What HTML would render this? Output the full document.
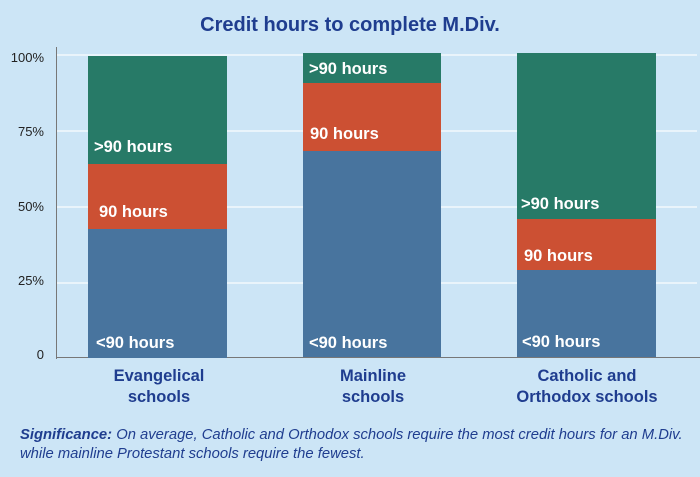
<!DOCTYPE html>
<html><head><meta charset="utf-8"><style>
body{margin:0;width:700px;height:477px;background:#cce5f6;font-family:"Liberation Sans",sans-serif;position:relative;overflow:hidden}
.a{position:absolute}
.t{left:0;width:700px;top:14px;text-align:center;color:#1f3d8f;font-weight:bold;font-size:20px}
.g{left:57px;width:640px;height:2px;background:#e9f4fb}
.yl{left:0;width:44px;text-align:right;font-size:13px;color:#222}
.bar{position:absolute}
.lb{position:absolute;color:#fff;font-weight:bold;font-size:16.5px;white-space:nowrap}
.xl{text-align:center;color:#1f3d8f;font-weight:bold;font-size:16.5px;line-height:21px;width:200px}
.s{left:20px;top:426px;color:#1f3d8f;font-style:italic;font-size:14.8px;line-height:19px;white-space:nowrap}
</style></head><body>
<div class="a t">Credit hours to complete M.Div.</div>
<div class="a g" style="top:54px"></div>
<div class="a g" style="top:130px"></div>
<div class="a g" style="top:206px"></div>
<div class="a g" style="top:282px"></div>
<div class="a yl" style="top:50px">100%</div>
<div class="a yl" style="top:124px">75%</div>
<div class="a yl" style="top:199px">50%</div>
<div class="a yl" style="top:273px">25%</div>
<div class="a yl" style="top:347px">0</div>
<div class="a" style="left:56px;top:47px;width:1px;height:312px;background:#777"></div>
<div class="a" style="left:56px;top:357px;width:644px;height:1px;background:#777"></div>

<div class="bar" style="left:88px;top:56px;width:139px;height:108px;background:#277a67"></div>
<div class="bar" style="left:88px;top:164px;width:139px;height:65px;background:#cc5033"></div>
<div class="bar" style="left:88px;top:229px;width:139px;height:129px;background:#48749e"></div>
<div class="lb" style="left:94px;top:138px">&gt;90 hours</div>
<div class="lb" style="left:99px;top:203px">90 hours</div>
<div class="lb" style="left:96px;top:334px">&lt;90 hours</div>

<div class="bar" style="left:303px;top:53px;width:138px;height:30px;background:#277a67"></div>
<div class="bar" style="left:303px;top:83px;width:138px;height:68px;background:#cc5033"></div>
<div class="bar" style="left:303px;top:151px;width:138px;height:206px;background:#48749e"></div>
<div class="lb" style="left:309px;top:60px">&gt;90 hours</div>
<div class="lb" style="left:310px;top:125px">90 hours</div>
<div class="lb" style="left:309px;top:334px">&lt;90 hours</div>

<div class="bar" style="left:517px;top:53px;width:139px;height:166px;background:#277a67"></div>
<div class="bar" style="left:517px;top:219px;width:139px;height:51px;background:#cc5033"></div>
<div class="bar" style="left:517px;top:270px;width:139px;height:87px;background:#48749e"></div>
<div class="lb" style="left:521px;top:195px">&gt;90 hours</div>
<div class="lb" style="left:524px;top:247px">90 hours</div>
<div class="lb" style="left:522px;top:333px">&lt;90 hours</div>

<div class="a xl" style="left:59px;top:366px">Evangelical<br>schools</div>
<div class="a xl" style="left:273px;top:366px">Mainline<br>schools</div>
<div class="a xl" style="left:487px;top:366px">Catholic and<br>Orthodox schools</div>
<div class="a s"><b>Significance:</b> On average, Catholic and Orthodox schools require the most credit hours for an M.Div.<br>while mainline Protestant schools require the fewest.</div>
</body></html>
